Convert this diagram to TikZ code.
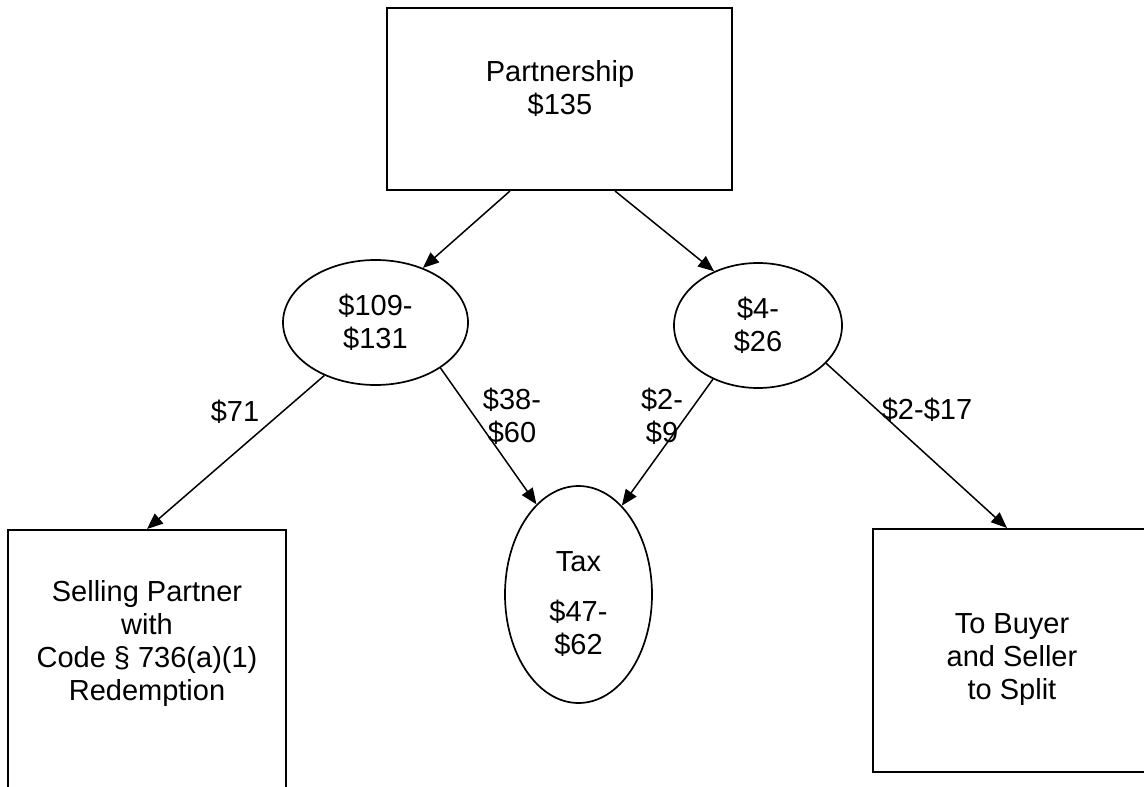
\documentclass[tikz,border=0pt]{standalone}
\usepackage{fontspec}
\setmainfont{Liberation Sans}
\usetikzlibrary{shapes.geometric,arrows.meta}
\tikzset{
  boxsty/.style={draw=black, line width=2pt, rectangle, inner sep=0pt},
  ellsty/.style={draw=black, line width=1.7pt, ellipse, inner sep=0pt, align=center,
                 font=\fontsize{29}{33}\selectfont},
  txt/.style={align=center, inner sep=0pt, font=\fontsize{29}{33}\selectfont},
  conn/.style={line width=1.5pt, -{Triangle[length=16pt,width=13pt]}},
}
\begin{document}
\begin{tikzpicture}[x=1pt,y=-1pt]
\useasboundingbox (0,0) rectangle (1144,787);
\clip (0,0) rectangle (1144,787);
\fill[white] (0,0) rectangle (1144,787);
% shapes
\node[boxsty, minimum width=345pt, minimum height=182pt] (pship) at (559.5,99) {};
\node[txt] (pshipt) at (560,88.5) {Partnership\\\$135};
\node[ellsty, minimum width=185pt, minimum height=125pt] (e1) at (375.5,322.5) {\$109-\\\$131};
\node[ellsty, minimum width=168pt, minimum height=125pt] (e2) at (758,325.5) {\$4-\\\$26};
\node[ellsty, minimum width=147pt, minimum height=217pt] (tax) at (578.5,594.5) {};
\node[txt] (taxt) at (578.5,604) {Tax\\[17pt]\$47-\\\$62};
\node[boxsty, minimum width=278pt, minimum height=300pt] (sp) at (147,680) {};
\node[txt] (spt) at (147,643) {Selling Partner\\with\\Code § 736(a)(1)\\Redemption};
\node[boxsty, minimum width=278pt, minimum height=243pt] (split) at (1012,650.5) {};
\node[txt] (splitt) at (1012,660) {To Buyer\\and Seller\\to Split};
% connectors
\draw[conn] ([xshift=-49.5pt]pship.south) -- (e1.49);
\draw[conn] ([xshift=55.5pt]pship.south) -- (e2.129);
\draw[conn] (e1.226) -- (sp.north);
\draw[conn] (e1.-35) -- (tax.115);
\draw[conn] (e2.230) -- (tax.64);
\draw[conn] (e2.-29) -- ([xshift=-5pt]split.north);
% connector labels
\node[txt] (l71) at (235,412) {\$71};
\node[txt] (l3860) at (512,416) {\$38-\\\$60};
\node[txt] (l29) at (662,416) {\$2-\\\$9};
\node[txt] (l217) at (927,410) {\$2-\$17};
\end{tikzpicture}
\end{document}
